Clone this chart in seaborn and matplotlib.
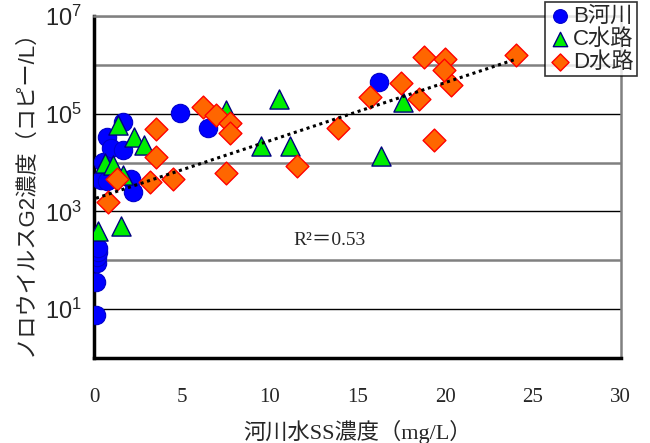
import numpy as np
import pandas as pd
import matplotlib
matplotlib.use("Agg")
import matplotlib.pyplot as plt
import seaborn as sns

# B河川 (blue circles)
b_x = [0.1, 0.1, 0.15, 0.15, 0.2, 0.2, 0.4, 0.7, 0.5, 0.75, 0.98, 1.64, 1.64, 2.1, 2.2, 4.87, 6.48, 16.25]
b_y = [7.5, 36, 88, 115, 145, 180, 4400, 4200, 10300, 34000, 19500, 68000, 18000, 4700, 2500, 105000, 50000, 436000]

# C水路 (green triangles)
c_x = [0.23, 1.54, 0.6, 1.07, 1.35, 2.27, 2.83, 1.64, 7.52, 9.48, 10.5, 11.13, 16.35, 17.6]
c_y = [400, 500, 9600, 8900, 58000, 34000, 23000, 5500, 118000, 22000, 204000, 22000, 13500, 175000]

# D水路 (orange diamonds)
d_x = [0.79, 1.3, 3.2, 4.49, 3.5, 3.5, 6.19, 6.95, 7.71, 7.71, 7.52, 11.57, 13.88, 15.74,
       17.49, 18.49, 19.38, 20.3, 18.77, 19.99, 19.95, 24.03]
d_y = [1580, 4700, 4000, 4700, 13000, 48000, 138000, 93000, 63000, 40000, 6000, 8400, 50000, 220000,
       415000, 195000, 29000, 380000, 1450000, 1300000, 780000, 1620000]

# exponential trendline: log10(y) = slope * x + intercept
trend_slope = 0.119
trend_intercept = 3.256
r2_label = "R²＝0.53"
x_ticks = [0, 5, 10, 15, 20, 25, 30]

sns.set_theme(style="white")
plt.rcParams["font.family"] = ["Liberation Sans", "Noto Sans CJK JP"]

fig = plt.figure(figsize=(6.5, 4.43), dpi=100)
ax = fig.add_axes([0.145, 0.192, 0.81, 0.772])

sns.scatterplot(x=b_x, y=b_y, ax=ax, marker="o", s=175, color="#0000FF",
                edgecolor="#0000CC", linewidth=0.8, label="B河川", zorder=3)
sns.scatterplot(x=c_x, y=c_y, ax=ax, marker="^", s=190, color="#00EE00",
                edgecolor="#000080", linewidth=1.0, label="C水路", zorder=4)
sns.scatterplot(x=d_x, y=d_y, ax=ax, marker="D", s=135, color="#FF6600",
                edgecolor="#FF0000", linewidth=1.0, label="D水路", zorder=5)

# trendline over the range of the data
all_x = np.array(b_x + c_x + d_x)
tx = np.linspace(all_x.min(), all_x.max(), 50)
ax.plot(tx, 10 ** (trend_slope * tx + trend_intercept), color="black",
        ls=(0, (1, 1.2)), lw=2.2, zorder=6)

ax.set_yscale("log")
ax.set_xlim(0, 30)
ax.set_ylim(1, 1e7)
ax.set_yticks([1e1, 1e3, 1e5, 1e7])
ax.set_yticks([1e0, 1e2, 1e4, 1e6], minor=True)
ax.yaxis.set_minor_formatter(matplotlib.ticker.NullFormatter())
ax.set_xticks(x_ticks)
ax.set_xticklabels([str(t) for t in x_ticks], fontfamily="Liberation Serif", fontsize=15)
for t in ax.get_yticklabels():
    t.set_fontsize(17)

ax.grid(which="major", axis="y", color="black", lw=1.0, zorder=0)
ax.grid(which="minor", axis="y", color="#808080", lw=1.8, zorder=0)
ax.tick_params(which="both", direction="in", length=5, width=1.5, color="black")
ax.tick_params(axis="y", which="major", pad=9)
ax.tick_params(axis="x", pad=22)

for side in ["left", "bottom"]:
    ax.spines[side].set_color("black")
    ax.spines[side].set_linewidth(2.5)
for side in ["right", "top"]:
    ax.spines[side].set_color("#808080")
    ax.spines[side].set_linewidth(1.8)

ax.text(13.4, 10 ** 2.41, r2_label, ha="center", va="center", fontsize=14,
        family=["Liberation Serif", "Noto Sans CJK JP"])

ax.set_xlabel("河川水SS濃度（mg/L）", fontsize=16, family=["Liberation Serif", "Noto Sans CJK JP"],
              labelpad=9)
ax.set_ylabel("ノロウイルスG2濃度（コピー/L）", fontsize=16, labelpad=6)

leg = ax.legend(loc="upper right", bbox_to_anchor=(0.98, 0.995), bbox_transform=fig.transFigure,
                frameon=True, fancybox=False, edgecolor="black", fontsize=16, markerscale=0.75,
                handletextpad=0.1, borderpad=0.15, labelspacing=0.1, handlelength=1.0,
                borderaxespad=0)
leg.get_frame().set_linewidth(1.2)
leg.set_zorder(10)

fig.savefig("out.png", dpi=100)
